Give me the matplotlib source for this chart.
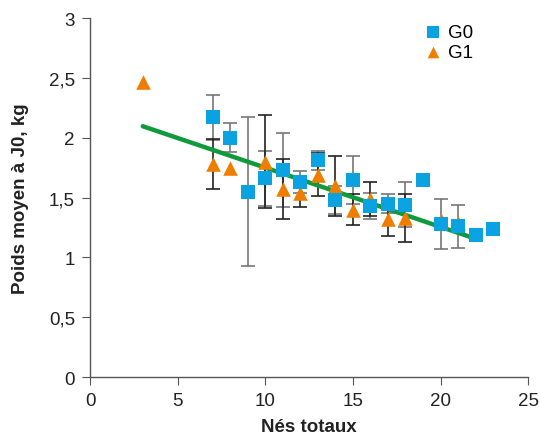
import matplotlib
matplotlib.use("Agg")
import matplotlib.pyplot as plt
import numpy as np
from matplotlib.ticker import FuncFormatter

# G0 data
g0_x = [7, 8, 9, 10, 11, 12, 13, 14, 15, 16, 17, 18, 19, 20, 21, 22, 23]
g0_y = [2.17, 2.00, 1.55, 1.66, 1.73, 1.63, 1.81, 1.48, 1.65, 1.43, 1.45, 1.44, 1.65, 1.28, 1.26, 1.19, 1.24]
g0_err = [0.19, 0.12, 0.62, 0.23, 0.31, 0.09, 0.08, 0.12, 0.20, 0.11, 0.08, 0.19, 0.0, 0.21, 0.18, 0.0, 0.0]

# G1 data
g1_x = [3, 7, 8, 10, 11, 12, 13, 14, 15, 16, 17, 18, 20, 21]
g1_y = [2.47, 1.78, 1.75, 1.80, 1.57, 1.54, 1.69, 1.60, 1.40, 1.49, 1.32, 1.33, 1.31, 1.29]
g1_err = [0.0, 0.21, 0.0, 0.39, 0.25, 0.12, 0.18, 0.25, 0.13, 0.14, 0.14, 0.20, 0.0, 0.0]

# trend line (linear fit)
trend_intercept = 2.245
trend_slope = -0.0495
trend_range = [3, 22]

x_ticks = [0, 5, 10, 15, 20, 25]
y_ticks = [0, 0.5, 1, 1.5, 2, 2.5, 3]

plt.rcParams['font.family'] = ['Liberation Sans', 'DejaVu Sans']

fig = plt.figure(figsize=(5.40, 4.35), dpi=100)
ax = fig.add_axes([0.167, 0.131, 0.811, 0.825])

blue = '#0aa2e0'
orange = '#ef7d00'
green = '#119a3b'


def draw_err(xs, ys, es, color):
    xs = np.asarray(xs, float)
    ys = np.asarray(ys, float)
    es = np.asarray(es, float)
    m = es > 0
    ax.errorbar(xs[m], ys[m], yerr=es[m], fmt='none', ecolor=color, elinewidth=1.2,
                capsize=5, capthick=1.2, zorder=2)


draw_err(g0_x, g0_y, g0_err, '#777777')
draw_err(g1_x, g1_y, g1_err, '#222222')

tx = np.array(trend_range, dtype=float)
ax.plot(tx, trend_intercept + trend_slope * tx, color=green, lw=3.2, zorder=3,
        solid_capstyle='round')

ax.scatter(g1_x, g1_y, marker='^', s=110, color=orange, zorder=4, label='G1', linewidths=0)
ax.scatter(g0_x, g0_y, marker='s', s=105, color=blue, zorder=5, label='G0', linewidths=0)

ax.set_xlim(0, 25)
ax.set_ylim(0, 3)
ax.set_xticks(x_ticks)
ax.set_yticks(y_ticks)
ax.yaxis.set_major_formatter(FuncFormatter(lambda v, p: ('%g' % v).replace('.', ',')))

for s in ['top', 'right']:
    ax.spines[s].set_visible(False)
for s in ['left', 'bottom']:
    ax.spines[s].set_color('#555555')
    ax.spines[s].set_linewidth(1.0)
ax.tick_params(direction='out', length=6, color='#555555', labelsize=13.5, labelcolor='#222222', pad=5)

ax.set_xlabel('Nés totaux', fontsize=13.5, fontweight='bold', color='#222222', labelpad=6)
ax.set_ylabel('Poids moyen à J0, kg', fontsize=13.5, fontweight='bold', color='#222222', labelpad=14)

handles, labels = ax.get_legend_handles_labels()
order = [labels.index('G0'), labels.index('G1')]
ax.legend([handles[i] for i in order], [labels[i] for i in order], loc='upper left',
          frameon=False, fontsize=13.5, handletextpad=0.3, handlelength=1.0,
          labelspacing=0.15, borderaxespad=0.0, borderpad=0.0,
          bbox_to_anchor=(0.762, 0.985), markerscale=0.8)

fig.savefig('out.png', dpi=100)
